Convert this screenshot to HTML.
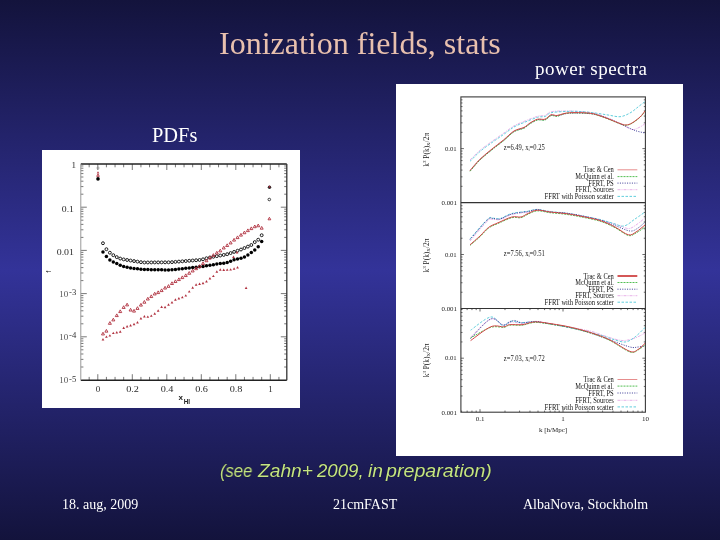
<!DOCTYPE html>
<html><head><meta charset="utf-8">
<style>
html,body{margin:0;padding:0;}
body{width:720px;height:540px;overflow:hidden;position:relative;
background:linear-gradient(to bottom,#13133c 0px,#333399 270px,#13133c 540px);
font-family:"Liberation Serif",serif;}
.t{position:absolute;white-space:nowrap;line-height:1;will-change:transform;}
#title{left:219px;top:27px;font-size:32px;color:#e8c0ae;}
#ps{left:535px;top:58.5px;font-size:19px;letter-spacing:0.5px;color:#fff;}
#pdfs{left:151.5px;top:125px;font-size:20.4px;color:#fff;}
.nw{position:absolute;top:463px;font-family:"Liberation Sans",sans-serif;font-style:italic;font-size:17.5px;color:#c4e484;transform-origin:0 0;text-shadow:0 0 1px #000;white-space:nowrap;line-height:1;will-change:transform;}
.ft{font-size:14px;color:#fff;top:498px;}
#f1{left:62px;}
#f2{left:333px;}
#f3{left:523px;}
.box{position:absolute;background:#fff;}
#lb{left:42px;top:150px;width:258px;height:258px;}
#rb{left:396px;top:84px;width:287px;height:372px;}
svg{position:absolute;left:0;top:0;will-change:transform;}
</style></head>
<body>
<div class="t" id="title">Ionization fields, stats</div>
<div class="t" id="ps">power spectra</div>
<div class="t" id="pdfs">PDFs</div>
<div class="box" id="lb"></div>
<div class="box" id="rb"></div>
<svg width="720" height="540" viewBox="0 0 720 540"><g>
<path d="M89.17 380.2v-3.3M89.17 164.0v3.3M97.80 380.2v-6M97.80 164.0v6M106.42 380.2v-3.3M106.42 164.0v3.3M115.05 380.2v-3.3M115.05 164.0v3.3M123.67 380.2v-3.3M123.67 164.0v3.3M132.30 380.2v-6M132.30 164.0v6M140.93 380.2v-3.3M140.93 164.0v3.3M149.55 380.2v-3.3M149.55 164.0v3.3M158.18 380.2v-3.3M158.18 164.0v3.3M166.80 380.2v-6M166.80 164.0v6M175.43 380.2v-3.3M175.43 164.0v3.3M184.05 380.2v-3.3M184.05 164.0v3.3M192.68 380.2v-3.3M192.68 164.0v3.3M201.30 380.2v-6M201.30 164.0v6M209.93 380.2v-3.3M209.93 164.0v3.3M218.55 380.2v-3.3M218.55 164.0v3.3M227.18 380.2v-3.3M227.18 164.0v3.3M235.80 380.2v-6M235.80 164.0v6M244.43 380.2v-3.3M244.43 164.0v3.3M253.05 380.2v-3.3M253.05 164.0v3.3M261.68 380.2v-3.3M261.68 164.0v3.3M270.30 380.2v-6M270.30 164.0v6M278.93 380.2v-3.3M278.93 164.0v3.3M80.8 207.20h6M286.8 207.20h-6M80.8 194.20h2.6M286.8 194.20h-2.6M80.8 186.59h2.6M286.8 186.59h-2.6M80.8 181.19h2.6M286.8 181.19h-2.6M80.8 177.00h2.6M286.8 177.00h-2.6M80.8 173.58h2.6M286.8 173.58h-2.6M80.8 170.69h2.6M286.8 170.69h-2.6M80.8 168.19h2.6M286.8 168.19h-2.6M80.8 165.98h2.6M286.8 165.98h-2.6M80.8 250.40h6M286.8 250.40h-6M80.8 237.40h2.6M286.8 237.40h-2.6M80.8 229.79h2.6M286.8 229.79h-2.6M80.8 224.39h2.6M286.8 224.39h-2.6M80.8 220.20h2.6M286.8 220.20h-2.6M80.8 216.78h2.6M286.8 216.78h-2.6M80.8 213.89h2.6M286.8 213.89h-2.6M80.8 211.39h2.6M286.8 211.39h-2.6M80.8 209.18h2.6M286.8 209.18h-2.6M80.8 293.60h6M286.8 293.60h-6M80.8 280.60h2.6M286.8 280.60h-2.6M80.8 272.99h2.6M286.8 272.99h-2.6M80.8 267.59h2.6M286.8 267.59h-2.6M80.8 263.40h2.6M286.8 263.40h-2.6M80.8 259.98h2.6M286.8 259.98h-2.6M80.8 257.09h2.6M286.8 257.09h-2.6M80.8 254.59h2.6M286.8 254.59h-2.6M80.8 252.38h2.6M286.8 252.38h-2.6M80.8 336.80h6M286.8 336.80h-6M80.8 323.80h2.6M286.8 323.80h-2.6M80.8 316.19h2.6M286.8 316.19h-2.6M80.8 310.79h2.6M286.8 310.79h-2.6M80.8 306.60h2.6M286.8 306.60h-2.6M80.8 303.18h2.6M286.8 303.18h-2.6M80.8 300.29h2.6M286.8 300.29h-2.6M80.8 297.79h2.6M286.8 297.79h-2.6M80.8 295.58h2.6M286.8 295.58h-2.6M80.8 367.00h2.6M286.8 367.00h-2.6M80.8 359.39h2.6M286.8 359.39h-2.6M80.8 353.99h2.6M286.8 353.99h-2.6M80.8 349.80h2.6M286.8 349.80h-2.6M80.8 346.38h2.6M286.8 346.38h-2.6M80.8 343.49h2.6M286.8 343.49h-2.6M80.8 340.99h2.6M286.8 340.99h-2.6M80.8 338.78h2.6M286.8 338.78h-2.6" stroke="#555" stroke-width="0.8" fill="none"/>
<path d="M80.8 164.0H286.8" stroke="#222" stroke-width="1.6"/>
<path d="M80.8 380.2H286.8" stroke="#222" stroke-width="1.4"/>
<path d="M286.8 164.0V380.2" stroke="#333" stroke-width="1.3"/>
<path d="M80.8 164.0V380.2" stroke="#999" stroke-width="1"/>
<text x="98.1" y="392.3" text-anchor="middle" font-family="Liberation Serif" font-size="9" fill="#2a2a2a">0</text>
<text x="132.6" y="392.3" text-anchor="middle" font-family="Liberation Serif" font-size="9" fill="#2a2a2a" textLength="12.8" lengthAdjust="spacingAndGlyphs">0.2</text>
<text x="167.1" y="392.3" text-anchor="middle" font-family="Liberation Serif" font-size="9" fill="#2a2a2a" textLength="12.8" lengthAdjust="spacingAndGlyphs">0.4</text>
<text x="201.6" y="392.3" text-anchor="middle" font-family="Liberation Serif" font-size="9" fill="#2a2a2a" textLength="12.8" lengthAdjust="spacingAndGlyphs">0.6</text>
<text x="236.1" y="392.3" text-anchor="middle" font-family="Liberation Serif" font-size="9" fill="#2a2a2a" textLength="12.8" lengthAdjust="spacingAndGlyphs">0.8</text>
<text x="270.6" y="392.3" text-anchor="middle" font-family="Liberation Serif" font-size="9" fill="#2a2a2a">1</text>
<text x="71.6" y="167.6" font-family="Liberation Serif" font-size="9" fill="#2a2a2a">1</text>
<text x="61.8" y="211.5" font-family="Liberation Serif" font-size="9" fill="#2a2a2a" textLength="12.2" lengthAdjust="spacingAndGlyphs">0.1</text>
<text x="56.7" y="254.5" font-family="Liberation Serif" font-size="9" fill="#2a2a2a" textLength="17.3" lengthAdjust="spacingAndGlyphs">0.01</text>
<text x="59.2" y="296.9" font-family="Liberation Serif" font-size="8.8" fill="#555" textLength="9" lengthAdjust="spacingAndGlyphs">10</text><text x="69" y="295.1" font-family="Liberation Serif" font-size="7.5" fill="#333" textLength="7.2" lengthAdjust="spacingAndGlyphs">-3</text>
<text x="59.2" y="340.1" font-family="Liberation Serif" font-size="8.8" fill="#555" textLength="9" lengthAdjust="spacingAndGlyphs">10</text><text x="69" y="338.3" font-family="Liberation Serif" font-size="7.5" fill="#333" textLength="7.2" lengthAdjust="spacingAndGlyphs">-4</text>
<text x="59.2" y="383.3" font-family="Liberation Serif" font-size="8.8" fill="#555" textLength="9" lengthAdjust="spacingAndGlyphs">10</text><text x="69" y="381.5" font-family="Liberation Serif" font-size="7.5" fill="#333" textLength="7.2" lengthAdjust="spacingAndGlyphs">-5</text>
<text x="51.5" y="271.7" font-family="Liberation Sans" font-size="7.5" fill="#222" transform="rotate(-90 51.5 271.7)" text-anchor="middle">f</text>
<text x="178.5" y="400.3" font-family="Liberation Sans" font-size="8" font-weight="bold" fill="#222">x</text><text x="183.8" y="403.7" font-family="Liberation Sans" font-size="6.3" font-weight="bold" fill="#222">HI</text>
<circle cx="102.97" cy="251.90" r="1.75" fill="#000"/><circle cx="106.42" cy="256.62" r="1.75" fill="#000"/><circle cx="109.88" cy="259.88" r="1.75" fill="#000"/><circle cx="113.32" cy="261.90" r="1.75" fill="#000"/><circle cx="116.78" cy="263.40" r="1.75" fill="#000"/><circle cx="120.22" cy="265.34" r="1.75" fill="#000"/><circle cx="123.67" cy="266.41" r="1.75" fill="#000"/><circle cx="127.12" cy="267.28" r="1.75" fill="#000"/><circle cx="130.57" cy="268.07" r="1.75" fill="#000"/><circle cx="134.03" cy="268.46" r="1.75" fill="#000"/><circle cx="137.47" cy="268.86" r="1.75" fill="#000"/><circle cx="140.93" cy="269.26" r="1.75" fill="#000"/><circle cx="144.38" cy="269.53" r="1.75" fill="#000"/><circle cx="147.82" cy="269.59" r="1.75" fill="#000"/><circle cx="151.28" cy="269.65" r="1.75" fill="#000"/><circle cx="154.72" cy="269.72" r="1.75" fill="#000"/><circle cx="158.17" cy="269.78" r="1.75" fill="#000"/><circle cx="161.62" cy="269.84" r="1.75" fill="#000"/><circle cx="165.07" cy="269.91" r="1.75" fill="#000"/><circle cx="168.53" cy="269.97" r="1.75" fill="#000"/><circle cx="171.98" cy="269.79" r="1.75" fill="#000"/><circle cx="175.42" cy="269.42" r="1.75" fill="#000"/><circle cx="178.88" cy="269.05" r="1.75" fill="#000"/><circle cx="182.32" cy="268.69" r="1.75" fill="#000"/><circle cx="185.78" cy="268.32" r="1.75" fill="#000"/><circle cx="189.23" cy="267.95" r="1.75" fill="#000"/><circle cx="192.68" cy="267.58" r="1.75" fill="#000"/><circle cx="196.12" cy="267.22" r="1.75" fill="#000"/><circle cx="199.58" cy="266.85" r="1.75" fill="#000"/><circle cx="203.02" cy="266.40" r="1.75" fill="#000"/><circle cx="206.47" cy="265.78" r="1.75" fill="#000"/><circle cx="209.93" cy="265.17" r="1.75" fill="#000"/><circle cx="213.38" cy="264.63" r="1.75" fill="#000"/><circle cx="216.82" cy="264.10" r="1.75" fill="#000"/><circle cx="220.28" cy="263.58" r="1.75" fill="#000"/><circle cx="223.73" cy="263.13" r="1.75" fill="#000"/><circle cx="227.18" cy="262.51" r="1.75" fill="#000"/><circle cx="230.62" cy="261.27" r="1.75" fill="#000"/><circle cx="234.07" cy="259.68" r="1.75" fill="#000"/><circle cx="237.53" cy="258.97" r="1.75" fill="#000"/><circle cx="240.98" cy="258.20" r="1.75" fill="#000"/><circle cx="244.43" cy="256.99" r="1.75" fill="#000"/><circle cx="247.88" cy="254.93" r="1.75" fill="#000"/><circle cx="251.32" cy="252.42" r="1.75" fill="#000"/><circle cx="254.77" cy="249.98" r="1.75" fill="#000"/><circle cx="258.23" cy="246.87" r="1.75" fill="#000"/><circle cx="261.68" cy="241.51" r="1.75" fill="#000"/><circle cx="102.97" cy="243.23" r="1.45" fill="none" stroke="#111" stroke-width="0.95"/><circle cx="106.42" cy="249.23" r="1.45" fill="none" stroke="#111" stroke-width="0.95"/><circle cx="109.88" cy="252.70" r="1.45" fill="none" stroke="#111" stroke-width="0.95"/><circle cx="113.32" cy="255.19" r="1.45" fill="none" stroke="#111" stroke-width="0.95"/><circle cx="116.78" cy="257.12" r="1.45" fill="none" stroke="#111" stroke-width="0.95"/><circle cx="120.22" cy="258.56" r="1.45" fill="none" stroke="#111" stroke-width="0.95"/><circle cx="123.67" cy="259.42" r="1.45" fill="none" stroke="#111" stroke-width="0.95"/><circle cx="127.12" cy="259.99" r="1.45" fill="none" stroke="#111" stroke-width="0.95"/><circle cx="130.57" cy="260.54" r="1.45" fill="none" stroke="#111" stroke-width="0.95"/><circle cx="134.03" cy="261.08" r="1.45" fill="none" stroke="#111" stroke-width="0.95"/><circle cx="137.47" cy="261.63" r="1.45" fill="none" stroke="#111" stroke-width="0.95"/><circle cx="140.93" cy="262.17" r="1.45" fill="none" stroke="#111" stroke-width="0.95"/><circle cx="144.38" cy="262.49" r="1.45" fill="none" stroke="#111" stroke-width="0.95"/><circle cx="147.82" cy="262.46" r="1.45" fill="none" stroke="#111" stroke-width="0.95"/><circle cx="151.28" cy="262.44" r="1.45" fill="none" stroke="#111" stroke-width="0.95"/><circle cx="154.72" cy="262.41" r="1.45" fill="none" stroke="#111" stroke-width="0.95"/><circle cx="158.17" cy="262.39" r="1.45" fill="none" stroke="#111" stroke-width="0.95"/><circle cx="161.62" cy="262.36" r="1.45" fill="none" stroke="#111" stroke-width="0.95"/><circle cx="165.07" cy="262.34" r="1.45" fill="none" stroke="#111" stroke-width="0.95"/><circle cx="168.53" cy="262.31" r="1.45" fill="none" stroke="#111" stroke-width="0.95"/><circle cx="171.98" cy="262.14" r="1.45" fill="none" stroke="#111" stroke-width="0.95"/><circle cx="175.42" cy="261.87" r="1.45" fill="none" stroke="#111" stroke-width="0.95"/><circle cx="178.88" cy="261.60" r="1.45" fill="none" stroke="#111" stroke-width="0.95"/><circle cx="182.32" cy="261.32" r="1.45" fill="none" stroke="#111" stroke-width="0.95"/><circle cx="185.78" cy="261.05" r="1.45" fill="none" stroke="#111" stroke-width="0.95"/><circle cx="189.23" cy="260.77" r="1.45" fill="none" stroke="#111" stroke-width="0.95"/><circle cx="192.68" cy="260.50" r="1.45" fill="none" stroke="#111" stroke-width="0.95"/><circle cx="196.12" cy="260.23" r="1.45" fill="none" stroke="#111" stroke-width="0.95"/><circle cx="199.58" cy="259.95" r="1.45" fill="none" stroke="#111" stroke-width="0.95"/><circle cx="203.02" cy="259.30" r="1.45" fill="none" stroke="#111" stroke-width="0.95"/><circle cx="206.47" cy="258.25" r="1.45" fill="none" stroke="#111" stroke-width="0.95"/><circle cx="209.93" cy="257.49" r="1.45" fill="none" stroke="#111" stroke-width="0.95"/><circle cx="213.38" cy="256.76" r="1.45" fill="none" stroke="#111" stroke-width="0.95"/><circle cx="216.82" cy="256.14" r="1.45" fill="none" stroke="#111" stroke-width="0.95"/><circle cx="220.28" cy="255.52" r="1.45" fill="none" stroke="#111" stroke-width="0.95"/><circle cx="223.73" cy="254.93" r="1.45" fill="none" stroke="#111" stroke-width="0.95"/><circle cx="227.18" cy="254.18" r="1.45" fill="none" stroke="#111" stroke-width="0.95"/><circle cx="230.62" cy="253.05" r="1.45" fill="none" stroke="#111" stroke-width="0.95"/><circle cx="234.07" cy="251.90" r="1.45" fill="none" stroke="#111" stroke-width="0.95"/><circle cx="237.53" cy="250.72" r="1.45" fill="none" stroke="#111" stroke-width="0.95"/><circle cx="240.98" cy="249.53" r="1.45" fill="none" stroke="#111" stroke-width="0.95"/><circle cx="244.43" cy="248.05" r="1.45" fill="none" stroke="#111" stroke-width="0.95"/><circle cx="247.88" cy="246.61" r="1.45" fill="none" stroke="#111" stroke-width="0.95"/><circle cx="251.32" cy="245.00" r="1.45" fill="none" stroke="#111" stroke-width="0.95"/><circle cx="254.77" cy="242.09" r="1.45" fill="none" stroke="#111" stroke-width="0.95"/><circle cx="258.23" cy="239.70" r="1.45" fill="none" stroke="#111" stroke-width="0.95"/><circle cx="261.68" cy="235.24" r="1.45" fill="none" stroke="#111" stroke-width="0.95"/><path d="M102.97 332.24L104.47 334.94L101.47 334.94Z" fill="none" stroke="#b0303e" stroke-width="0.9"/><path d="M106.42 329.44L107.92 332.14L104.92 332.14Z" fill="none" stroke="#b0303e" stroke-width="0.9"/><path d="M109.88 321.62L111.38 324.32L108.38 324.32Z" fill="none" stroke="#b0303e" stroke-width="0.9"/><path d="M113.32 318.22L114.82 320.92L111.82 320.92Z" fill="none" stroke="#b0303e" stroke-width="0.9"/><path d="M116.78 313.89L118.28 316.59L115.28 316.59Z" fill="none" stroke="#b0303e" stroke-width="0.9"/><path d="M120.22 309.87L121.72 312.57L118.72 312.57Z" fill="none" stroke="#b0303e" stroke-width="0.9"/><path d="M123.67 305.75L125.17 308.45L122.17 308.45Z" fill="none" stroke="#b0303e" stroke-width="0.9"/><path d="M127.12 303.19L128.62 305.89L125.62 305.89Z" fill="none" stroke="#b0303e" stroke-width="0.9"/><path d="M130.57 308.32L132.07 311.02L129.07 311.02Z" fill="none" stroke="#b0303e" stroke-width="0.9"/><path d="M134.03 309.38L135.53 312.08L132.53 312.08Z" fill="none" stroke="#b0303e" stroke-width="0.9"/><path d="M137.47 306.71L138.97 309.41L135.97 309.41Z" fill="none" stroke="#b0303e" stroke-width="0.9"/><path d="M140.93 303.39L142.43 306.09L139.43 306.09Z" fill="none" stroke="#b0303e" stroke-width="0.9"/><path d="M144.38 300.49L145.88 303.19L142.88 303.19Z" fill="none" stroke="#b0303e" stroke-width="0.9"/><path d="M147.82 297.32L149.32 300.02L146.32 300.02Z" fill="none" stroke="#b0303e" stroke-width="0.9"/><path d="M151.28 294.86L152.78 297.56L149.78 297.56Z" fill="none" stroke="#b0303e" stroke-width="0.9"/><path d="M154.72 292.25L156.22 294.95L153.22 294.95Z" fill="none" stroke="#b0303e" stroke-width="0.9"/><path d="M158.17 290.88L159.67 293.58L156.67 293.58Z" fill="none" stroke="#b0303e" stroke-width="0.9"/><path d="M161.62 288.89L163.12 291.59L160.12 291.59Z" fill="none" stroke="#b0303e" stroke-width="0.9"/><path d="M165.07 286.34L166.57 289.04L163.57 289.04Z" fill="none" stroke="#b0303e" stroke-width="0.9"/><path d="M168.53 284.62L170.03 287.32L167.03 287.32Z" fill="none" stroke="#b0303e" stroke-width="0.9"/><path d="M171.98 281.80L173.48 284.50L170.48 284.50Z" fill="none" stroke="#b0303e" stroke-width="0.9"/><path d="M175.42 279.83L176.92 282.53L173.92 282.53Z" fill="none" stroke="#b0303e" stroke-width="0.9"/><path d="M178.88 277.87L180.38 280.57L177.38 280.57Z" fill="none" stroke="#b0303e" stroke-width="0.9"/><path d="M182.32 275.90L183.82 278.60L180.82 278.60Z" fill="none" stroke="#b0303e" stroke-width="0.9"/><path d="M185.78 273.86L187.28 276.56L184.28 276.56Z" fill="none" stroke="#b0303e" stroke-width="0.9"/><path d="M189.23 271.56L190.73 274.26L187.73 274.26Z" fill="none" stroke="#b0303e" stroke-width="0.9"/><path d="M192.68 269.26L194.18 271.96L191.18 271.96Z" fill="none" stroke="#b0303e" stroke-width="0.9"/><path d="M196.12 266.96L197.62 269.66L194.62 269.66Z" fill="none" stroke="#b0303e" stroke-width="0.9"/><path d="M199.58 264.66L201.08 267.36L198.08 267.36Z" fill="none" stroke="#b0303e" stroke-width="0.9"/><path d="M203.02 261.88L204.52 264.58L201.52 264.58Z" fill="none" stroke="#b0303e" stroke-width="0.9"/><path d="M206.47 259.03L207.97 261.73L204.97 261.73Z" fill="none" stroke="#b0303e" stroke-width="0.9"/><path d="M209.93 256.24L211.43 258.94L208.43 258.94Z" fill="none" stroke="#b0303e" stroke-width="0.9"/><path d="M213.38 253.67L214.88 256.37L211.88 256.37Z" fill="none" stroke="#b0303e" stroke-width="0.9"/><path d="M216.82 251.34L218.32 254.04L215.32 254.04Z" fill="none" stroke="#b0303e" stroke-width="0.9"/><path d="M220.28 249.16L221.78 251.86L218.78 251.86Z" fill="none" stroke="#b0303e" stroke-width="0.9"/><path d="M223.73 246.28L225.23 248.98L222.23 248.98Z" fill="none" stroke="#b0303e" stroke-width="0.9"/><path d="M227.18 243.83L228.68 246.53L225.68 246.53Z" fill="none" stroke="#b0303e" stroke-width="0.9"/><path d="M230.62 241.23L232.12 243.93L229.12 243.93Z" fill="none" stroke="#b0303e" stroke-width="0.9"/><path d="M234.07 238.37L235.57 241.07L232.57 241.07Z" fill="none" stroke="#b0303e" stroke-width="0.9"/><path d="M237.53 235.92L239.03 238.62L236.03 238.62Z" fill="none" stroke="#b0303e" stroke-width="0.9"/><path d="M240.98 233.40L242.48 236.10L239.48 236.10Z" fill="none" stroke="#b0303e" stroke-width="0.9"/><path d="M244.43 231.03L245.93 233.73L242.93 233.73Z" fill="none" stroke="#b0303e" stroke-width="0.9"/><path d="M247.88 228.92L249.38 231.62L246.38 231.62Z" fill="none" stroke="#b0303e" stroke-width="0.9"/><path d="M251.32 226.90L252.82 229.60L249.82 229.60Z" fill="none" stroke="#b0303e" stroke-width="0.9"/><path d="M254.77 225.01L256.27 227.71L253.27 227.71Z" fill="none" stroke="#b0303e" stroke-width="0.9"/><path d="M258.23 224.06L259.73 226.76L256.73 226.76Z" fill="none" stroke="#b0303e" stroke-width="0.9"/><path d="M261.68 226.46L263.18 229.16L260.18 229.16Z" fill="none" stroke="#b0303e" stroke-width="0.9"/><path d="M102.97 337.95L104.32 340.38L101.62 340.38Z" fill="#b0303e"/><path d="M106.42 335.42L107.77 337.85L105.08 337.85Z" fill="#b0303e"/><path d="M109.88 334.19L111.22 336.62L108.53 336.62Z" fill="#b0303e"/><path d="M113.32 331.67L114.67 334.10L111.97 334.10Z" fill="#b0303e"/><path d="M116.78 331.06L118.12 333.49L115.43 333.49Z" fill="#b0303e"/><path d="M120.22 330.29L121.57 332.72L118.88 332.72Z" fill="#b0303e"/><path d="M123.67 326.51L125.02 328.94L122.33 328.94Z" fill="#b0303e"/><path d="M127.12 325.06L128.47 327.49L125.78 327.49Z" fill="#b0303e"/><path d="M130.57 324.11L131.92 326.54L129.22 326.54Z" fill="#b0303e"/><path d="M134.03 322.73L135.38 325.16L132.68 325.16Z" fill="#b0303e"/><path d="M137.47 321.05L138.82 323.48L136.12 323.48Z" fill="#b0303e"/><path d="M140.93 317.10L142.28 319.53L139.58 319.53Z" fill="#b0303e"/><path d="M144.38 315.11L145.72 317.54L143.03 317.54Z" fill="#b0303e"/><path d="M147.82 315.40L149.17 317.83L146.47 317.83Z" fill="#b0303e"/><path d="M151.28 314.38L152.62 316.81L149.93 316.81Z" fill="#b0303e"/><path d="M154.72 312.27L156.07 314.70L153.38 314.70Z" fill="#b0303e"/><path d="M158.17 309.35L159.52 311.78L156.82 311.78Z" fill="#b0303e"/><path d="M161.62 305.59L162.97 308.02L160.28 308.02Z" fill="#b0303e"/><path d="M165.07 305.74L166.42 308.17L163.72 308.17Z" fill="#b0303e"/><path d="M168.53 303.24L169.88 305.67L167.18 305.67Z" fill="#b0303e"/><path d="M171.98 300.95L173.33 303.38L170.63 303.38Z" fill="#b0303e"/><path d="M175.42 298.26L176.77 300.69L174.07 300.69Z" fill="#b0303e"/><path d="M178.88 297.10L180.22 299.53L177.53 299.53Z" fill="#b0303e"/><path d="M182.32 295.94L183.67 298.37L180.97 298.37Z" fill="#b0303e"/><path d="M185.78 294.15L187.12 296.58L184.43 296.58Z" fill="#b0303e"/><path d="M189.23 290.18L190.58 292.61L187.88 292.61Z" fill="#b0303e"/><path d="M192.68 286.22L194.03 288.65L191.33 288.65Z" fill="#b0303e"/><path d="M196.12 283.28L197.47 285.71L194.78 285.71Z" fill="#b0303e"/><path d="M199.58 282.49L200.93 284.92L198.23 284.92Z" fill="#b0303e"/><path d="M203.02 281.70L204.37 284.13L201.67 284.13Z" fill="#b0303e"/><path d="M206.47 280.00L207.82 282.43L205.12 282.43Z" fill="#b0303e"/><path d="M209.93 277.10L211.28 279.53L208.58 279.53Z" fill="#b0303e"/><path d="M213.38 274.68L214.72 277.11L212.03 277.11Z" fill="#b0303e"/><path d="M216.82 270.20L218.17 272.63L215.47 272.63Z" fill="#b0303e"/><path d="M220.28 268.20L221.62 270.63L218.93 270.63Z" fill="#b0303e"/><path d="M223.73 268.45L225.08 270.88L222.38 270.88Z" fill="#b0303e"/><path d="M227.18 268.39L228.53 270.82L225.83 270.82Z" fill="#b0303e"/><path d="M230.62 268.14L231.97 270.57L229.28 270.57Z" fill="#b0303e"/><path d="M234.07 267.32L235.42 269.75L232.72 269.75Z" fill="#b0303e"/><path d="M237.53 266.11L238.88 268.54L236.18 268.54Z" fill="#b0303e"/><circle cx="98" cy="178.9" r="1.8" fill="#000"/><path d="M98.00 171.20L99.30 173.54L96.70 173.54Z" fill="#b0303e"/><path d="M98.00 174.00L99.30 176.34L96.70 176.34Z" fill="none" stroke="#b0303e" stroke-width="0.9"/><circle cx="98" cy="168" r="1.1" fill="none" stroke="#888" stroke-width="0.6"/><circle cx="269.5" cy="187.2" r="1.7" fill="#222"/><path d="M269.50 185.30L270.70 187.46L268.30 187.46Z" fill="#b0303e"/><circle cx="269.3" cy="199.5" r="1.3" fill="none" stroke="#111" stroke-width="0.8"/><path d="M269.40 217.29L270.80 219.81L268.00 219.81Z" fill="none" stroke="#b0303e" stroke-width="0.9"/><path d="M246.10 286.54L247.45 288.97L244.75 288.97Z" fill="#b0303e"/><path d="M233.50 255.54L234.85 257.97L232.15 257.97Z" fill="#b0303e"/><path d="M237.00 251.04L238.35 253.47L235.65 253.47Z" fill="#b0303e"/>
</g>
<path d="M460.9 186.34h1.6M645.4 186.34h-1.6M460.9 176.84h1.6M645.4 176.84h-1.6M460.9 170.09h1.6M645.4 170.09h-1.6M460.9 164.86h1.6M645.4 164.86h-1.6M460.9 160.58h1.6M645.4 160.58h-1.6M460.9 156.96h1.6M645.4 156.96h-1.6M460.9 153.83h1.6M645.4 153.83h-1.6M460.9 151.07h1.6M645.4 151.07h-1.6M460.9 148.60h3M645.4 148.60h-3M460.9 132.34h1.6M645.4 132.34h-1.6M460.9 122.84h1.6M645.4 122.84h-1.6M460.9 116.09h1.6M645.4 116.09h-1.6M460.9 110.86h1.6M645.4 110.86h-1.6M460.9 106.58h1.6M645.4 106.58h-1.6M460.9 102.96h1.6M645.4 102.96h-1.6M460.9 99.83h1.6M645.4 99.83h-1.6M460.9 292.24h1.6M645.4 292.24h-1.6M460.9 282.74h1.6M645.4 282.74h-1.6M460.9 275.99h1.6M645.4 275.99h-1.6M460.9 270.76h1.6M645.4 270.76h-1.6M460.9 266.48h1.6M645.4 266.48h-1.6M460.9 262.86h1.6M645.4 262.86h-1.6M460.9 259.73h1.6M645.4 259.73h-1.6M460.9 256.97h1.6M645.4 256.97h-1.6M460.9 254.50h3M645.4 254.50h-3M460.9 238.24h1.6M645.4 238.24h-1.6M460.9 228.74h1.6M645.4 228.74h-1.6M460.9 221.99h1.6M645.4 221.99h-1.6M460.9 216.76h1.6M645.4 216.76h-1.6M460.9 212.48h1.6M645.4 212.48h-1.6M460.9 208.86h1.6M645.4 208.86h-1.6M460.9 205.73h1.6M645.4 205.73h-1.6M460.9 395.94h1.6M645.4 395.94h-1.6M460.9 386.44h1.6M645.4 386.44h-1.6M460.9 379.69h1.6M645.4 379.69h-1.6M460.9 374.46h1.6M645.4 374.46h-1.6M460.9 370.18h1.6M645.4 370.18h-1.6M460.9 366.56h1.6M645.4 366.56h-1.6M460.9 363.43h1.6M645.4 363.43h-1.6M460.9 360.67h1.6M645.4 360.67h-1.6M460.9 358.20h3M645.4 358.20h-3M460.9 341.94h1.6M645.4 341.94h-1.6M460.9 332.44h1.6M645.4 332.44h-1.6M460.9 325.69h1.6M645.4 325.69h-1.6M460.9 320.46h1.6M645.4 320.46h-1.6M460.9 316.18h1.6M645.4 316.18h-1.6M460.9 312.56h1.6M645.4 312.56h-1.6M460.9 309.43h1.6M645.4 309.43h-1.6M461.59 412.2v-1.6M461.59 308.5v1.6M467.14 412.2v-1.6M467.14 308.5v1.6M471.96 412.2v-1.6M471.96 308.5v1.6M476.20 412.2v-1.6M476.20 308.5v1.6M480.00 412.2v-3M480.00 308.5v3M504.99 412.2v-1.6M504.99 308.5v1.6M519.60 412.2v-1.6M519.60 308.5v1.6M529.97 412.2v-1.6M529.97 308.5v1.6M538.01 412.2v-1.6M538.01 308.5v1.6M544.59 412.2v-1.6M544.59 308.5v1.6M550.14 412.2v-1.6M550.14 308.5v1.6M554.96 412.2v-1.6M554.96 308.5v1.6M559.20 412.2v-1.6M559.20 308.5v1.6M563.00 412.2v-3M563.00 308.5v3M587.99 412.2v-1.6M587.99 308.5v1.6M602.60 412.2v-1.6M602.60 308.5v1.6M612.97 412.2v-1.6M612.97 308.5v1.6M621.01 412.2v-1.6M621.01 308.5v1.6M627.59 412.2v-1.6M627.59 308.5v1.6M633.14 412.2v-1.6M633.14 308.5v1.6M637.96 412.2v-1.6M637.96 308.5v1.6M642.20 412.2v-1.6M642.20 308.5v1.6" stroke="#444" stroke-width="0.8" fill="none"/>
<rect x="460.9" y="96.9" width="184.5" height="315.29999999999995" fill="none" stroke="#3a3a3a" stroke-width="1.1"/>
<path d="M460.9 202.6H645.4M460.9 308.5H645.4" stroke="#333" stroke-width="1.1"/>
<text x="456.7" y="150.8" text-anchor="end" font-family="Liberation Serif" font-size="7" fill="#1a1a1a" textLength="11.8" lengthAdjust="spacingAndGlyphs">0.01</text>
<text x="457" y="205.4" text-anchor="end" font-family="Liberation Serif" font-size="7" fill="#1a1a1a" textLength="15.5" lengthAdjust="spacingAndGlyphs">0.001</text>
<g transform="translate(428.6 149.75) rotate(-90)"><text x="0" y="0" text-anchor="middle" font-family="Liberation Serif" font-size="7.4" fill="#1a1a1a">k<tspan dy="-2.8" font-size="5">3</tspan><tspan dy="2.8"> P(k)</tspan><tspan dy="1.6" font-size="5">X</tspan><tspan dy="-1.6">/2π</tspan></text></g>
<text x="456.7" y="256.8" text-anchor="end" font-family="Liberation Serif" font-size="7" fill="#1a1a1a" textLength="11.8" lengthAdjust="spacingAndGlyphs">0.01</text>
<text x="457" y="311.4" text-anchor="end" font-family="Liberation Serif" font-size="7" fill="#1a1a1a" textLength="15.5" lengthAdjust="spacingAndGlyphs">0.001</text>
<g transform="translate(428.6 255.55) rotate(-90)"><text x="0" y="0" text-anchor="middle" font-family="Liberation Serif" font-size="7.4" fill="#1a1a1a">k<tspan dy="-2.8" font-size="5">3</tspan><tspan dy="2.8"> P(k)</tspan><tspan dy="1.6" font-size="5">X</tspan><tspan dy="-1.6">/2π</tspan></text></g>
<text x="456.7" y="360.4" text-anchor="end" font-family="Liberation Serif" font-size="7" fill="#1a1a1a" textLength="11.8" lengthAdjust="spacingAndGlyphs">0.01</text>
<text x="457" y="415.1" text-anchor="end" font-family="Liberation Serif" font-size="7" fill="#1a1a1a" textLength="15.5" lengthAdjust="spacingAndGlyphs">0.001</text>
<g transform="translate(428.6 360.35) rotate(-90)"><text x="0" y="0" text-anchor="middle" font-family="Liberation Serif" font-size="7.4" fill="#1a1a1a">k<tspan dy="-2.8" font-size="5">3</tspan><tspan dy="2.8"> P(k)</tspan><tspan dy="1.6" font-size="5">X</tspan><tspan dy="-1.6">/2π</tspan></text></g>
<text x="480" y="420.8" text-anchor="middle" font-family="Liberation Serif" font-size="7" fill="#1a1a1a">0.1</text>
<text x="563" y="420.8" text-anchor="middle" font-family="Liberation Serif" font-size="7" fill="#1a1a1a">1</text>
<text x="645.6" y="420.8" text-anchor="middle" font-family="Liberation Serif" font-size="7" fill="#1a1a1a">10</text>
<text x="553" y="431.6" text-anchor="middle" font-family="Liberation Serif" font-size="7" fill="#1a1a1a">k [h/Mpc]</text>
<text x="503.8" y="149.9" font-family="Liberation Serif" font-size="7.2" fill="#1a1a1a" textLength="41" lengthAdjust="spacingAndGlyphs">z=6.49, x<tspan dy="1.3" font-size="4.5">i</tspan><tspan dy="-1.3">=0.25</tspan></text>
<text x="503.8" y="255.6" font-family="Liberation Serif" font-size="7.2" fill="#1a1a1a" textLength="41" lengthAdjust="spacingAndGlyphs">z=7.56, x<tspan dy="1.3" font-size="4.5">i</tspan><tspan dy="-1.3">=0.51</tspan></text>
<text x="503.8" y="360.9" font-family="Liberation Serif" font-size="7.2" fill="#1a1a1a" textLength="41" lengthAdjust="spacingAndGlyphs">z=7.03, x<tspan dy="1.3" font-size="4.5">i</tspan><tspan dy="-1.3">=0.72</tspan></text>
<text x="613.8" y="172.4" text-anchor="end" font-family="Liberation Serif" font-size="7.3" fill="#111" textLength="30.3" lengthAdjust="spacingAndGlyphs">Trac &amp; Cen</text>
<path d="M617.5 169.8H637.3" stroke="#e07070" fill="none" stroke-width="0.8"/>
<text x="613.8" y="179.2" text-anchor="end" font-family="Liberation Serif" font-size="7.3" fill="#111" textLength="38.6" lengthAdjust="spacingAndGlyphs">McQuinn et al.</text>
<path d="M617.5 176.6H637.3" stroke="#40b840" fill="none" stroke-width="0.9" stroke-dasharray="2 1"/>
<text x="613.8" y="185.7" text-anchor="end" font-family="Liberation Serif" font-size="7.3" fill="#111" textLength="25.5" lengthAdjust="spacingAndGlyphs">FFRT, PS</text>
<path d="M617.5 183.1H637.3" stroke="#25258a" fill="none" stroke-width="0.9" stroke-dasharray="1 1.4"/>
<text x="613.8" y="192.3" text-anchor="end" font-family="Liberation Serif" font-size="7.3" fill="#111" textLength="38.6" lengthAdjust="spacingAndGlyphs">FFRT, Sources</text>
<path d="M617.5 189.7H637.3" stroke="#e090e0" fill="none" stroke-width="0.7" stroke-dasharray="3 1 1 1"/>
<text x="613.8" y="199.0" text-anchor="end" font-family="Liberation Serif" font-size="7.3" fill="#111" textLength="69.2" lengthAdjust="spacingAndGlyphs">FFRT with Poisson scatter</text>
<path d="M617.5 196.4H637.3" stroke="#50c8d8" fill="none" stroke-width="0.9" stroke-dasharray="2.5 1.5"/>
<text x="613.8" y="278.6" text-anchor="end" font-family="Liberation Serif" font-size="7.3" fill="#111" textLength="30.3" lengthAdjust="spacingAndGlyphs">Trac &amp; Cen</text>
<path d="M617.5 276.0H637.3" stroke="#d04444" fill="none" stroke-width="1.8"/>
<text x="613.8" y="285.1" text-anchor="end" font-family="Liberation Serif" font-size="7.3" fill="#111" textLength="38.6" lengthAdjust="spacingAndGlyphs">McQuinn et al.</text>
<path d="M617.5 282.5H637.3" stroke="#40b840" fill="none" stroke-width="0.9" stroke-dasharray="2 1"/>
<text x="613.8" y="291.8" text-anchor="end" font-family="Liberation Serif" font-size="7.3" fill="#111" textLength="25.5" lengthAdjust="spacingAndGlyphs">FFRT, PS</text>
<path d="M617.5 289.2H637.3" stroke="#25258a" fill="none" stroke-width="0.9" stroke-dasharray="1 1.4"/>
<text x="613.8" y="298.3" text-anchor="end" font-family="Liberation Serif" font-size="7.3" fill="#111" textLength="38.6" lengthAdjust="spacingAndGlyphs">FFRT, Sources</text>
<path d="M617.5 295.7H637.3" stroke="#e090e0" fill="none" stroke-width="0.7" stroke-dasharray="3 1 1 1"/>
<text x="613.8" y="304.8" text-anchor="end" font-family="Liberation Serif" font-size="7.3" fill="#111" textLength="69.2" lengthAdjust="spacingAndGlyphs">FFRT with Poisson scatter</text>
<path d="M617.5 302.2H637.3" stroke="#50c8d8" fill="none" stroke-width="0.9" stroke-dasharray="2.5 1.5"/>
<text x="613.8" y="382.1" text-anchor="end" font-family="Liberation Serif" font-size="7.3" fill="#111" textLength="30.3" lengthAdjust="spacingAndGlyphs">Trac &amp; Cen</text>
<path d="M617.5 379.5H637.3" stroke="#e07070" fill="none" stroke-width="0.8"/>
<text x="613.8" y="388.7" text-anchor="end" font-family="Liberation Serif" font-size="7.3" fill="#111" textLength="38.6" lengthAdjust="spacingAndGlyphs">McQuinn et al.</text>
<path d="M617.5 386.1H637.3" stroke="#40b840" fill="none" stroke-width="0.9" stroke-dasharray="2 1"/>
<text x="613.8" y="395.6" text-anchor="end" font-family="Liberation Serif" font-size="7.3" fill="#111" textLength="25.5" lengthAdjust="spacingAndGlyphs">FFRT, PS</text>
<path d="M617.5 393.0H637.3" stroke="#25258a" fill="none" stroke-width="0.9" stroke-dasharray="1 1.4"/>
<text x="613.8" y="402.9" text-anchor="end" font-family="Liberation Serif" font-size="7.3" fill="#111" textLength="38.6" lengthAdjust="spacingAndGlyphs">FFRT, Sources</text>
<path d="M617.5 400.3H637.3" stroke="#e090e0" fill="none" stroke-width="0.7" stroke-dasharray="3 1 1 1"/>
<text x="613.8" y="409.5" text-anchor="end" font-family="Liberation Serif" font-size="7.3" fill="#111" textLength="69.2" lengthAdjust="spacingAndGlyphs">FFRT with Poisson scatter</text>
<path d="M617.5 406.9H637.3" stroke="#50c8d8" fill="none" stroke-width="0.9" stroke-dasharray="2.5 1.5"/>
<path d="M470.0 160.0 C471.7 158.4 476.3 153.4 480.0 150.3 C483.7 147.2 488.1 144.2 492.0 141.4 C495.9 138.6 499.8 135.9 503.5 133.3 C507.2 130.7 510.6 127.9 514.0 125.9 C517.4 123.9 520.1 123.0 524.0 121.4 C527.9 119.8 534.1 117.3 537.6 116.3 C541.1 115.3 542.8 116.2 545.0 115.5 C547.2 114.8 547.7 112.5 551.0 111.8 C554.3 111.0 560.2 111.0 565.0 111.0 C569.8 111.0 575.0 111.1 580.0 111.5 C585.0 111.9 590.0 112.2 595.0 113.5 C600.0 114.8 605.5 117.2 610.0 119.0 C614.5 120.8 618.3 122.8 622.0 124.5 C625.7 126.2 629.0 129.1 632.0 129.5 C635.0 129.9 637.8 128.0 640.0 127.0 C642.2 126.0 644.2 124.2 645.0 123.7" stroke="#e090e0" fill="none" stroke-width="0.7" stroke-dasharray="3 1 1 1"/>
<path d="M470.0 161.4 C471.7 159.8 476.3 154.7 480.0 151.5 C483.7 148.3 488.1 145.3 492.0 142.5 C495.9 139.7 499.8 137.1 503.5 134.5 C507.2 131.9 510.6 129.0 514.0 127.0 C517.4 125.0 520.1 124.1 524.0 122.5 C527.9 120.9 534.1 118.3 537.6 117.3 C541.1 116.3 542.8 117.2 545.0 116.5 C547.2 115.8 547.7 113.6 551.0 112.8 C554.3 112.0 560.2 111.7 565.0 111.5 C569.8 111.3 575.0 111.2 580.0 111.5 C585.0 111.8 590.3 112.4 595.0 113.0 C599.7 113.6 603.8 114.4 608.0 115.0 C612.2 115.6 616.3 117.0 620.0 116.7 C623.7 116.4 627.0 114.6 630.0 113.0 C633.0 111.4 635.5 108.9 638.0 107.0 C640.5 105.1 643.8 102.4 645.0 101.5" stroke="#50c8d8" fill="none" stroke-width="0.9" stroke-dasharray="2.5 1.5"/>
<path d="M470.0 171.0 C471.7 169.1 476.3 163.3 480.0 159.7 C483.7 156.1 488.1 152.7 492.0 149.5 C495.9 146.3 499.8 143.5 503.5 140.5 C507.2 137.5 510.6 133.6 514.0 131.5 C517.4 129.4 521.3 129.2 524.0 127.9 C526.7 126.6 527.7 124.9 530.0 123.5 C532.3 122.1 535.1 120.3 537.6 119.7 C540.1 119.1 542.8 120.4 545.0 119.7 C547.2 119.0 549.0 115.9 551.0 115.3 C553.0 114.7 554.7 116.2 557.0 116.0 C559.3 115.8 562.0 114.3 565.0 113.8 C568.0 113.3 570.8 113.1 575.0 113.1 C579.2 113.1 585.8 113.3 590.0 113.7 C594.2 114.1 596.3 114.5 600.0 115.5 C603.7 116.5 607.8 118.2 612.0 120.0 C616.2 121.8 621.2 124.2 625.0 126.0 C628.8 127.8 631.7 129.3 635.0 130.5 C638.3 131.7 643.3 132.6 645.0 133.0" stroke="#25258a" fill="none" stroke-width="0.9" stroke-dasharray="1 1.4"/>
<path d="M470.0 171.3 C471.7 169.4 476.3 163.6 480.0 160.0 C483.7 156.4 488.1 153.0 492.0 149.8 C495.9 146.6 499.8 143.8 503.5 140.8 C507.2 137.8 510.6 133.9 514.0 131.8 C517.4 129.7 521.3 129.5 524.0 128.2 C526.7 126.9 527.7 125.2 530.0 123.8 C532.3 122.4 535.1 120.6 537.6 120.0 C540.1 119.4 542.8 120.7 545.0 120.0 C547.2 119.3 549.0 116.2 551.0 115.6 C553.0 115.0 554.7 116.6 557.0 116.3 C559.3 116.0 562.0 114.2 565.0 113.6 C568.0 113.0 570.8 112.9 575.0 112.9 C579.2 112.9 585.8 113.0 590.0 113.5 C594.2 114.0 596.7 115.0 600.0 116.1 C603.3 117.1 606.7 118.5 610.0 119.8 C613.3 121.1 617.3 122.9 620.0 123.8 C622.7 124.7 624.0 125.4 626.0 125.3 C628.0 125.2 629.7 124.6 632.0 123.3 C634.3 122.0 637.8 119.3 640.0 117.3 C642.2 115.3 644.2 112.3 645.0 111.3" stroke="#40b840" fill="none" stroke-width="0.9" stroke-dasharray="2 1"/>
<path d="M470.0 170.5 C471.7 168.6 476.3 162.8 480.0 159.2 C483.7 155.6 488.1 152.2 492.0 149.0 C495.9 145.8 499.8 143.0 503.5 140.0 C507.2 137.0 510.6 133.1 514.0 131.0 C517.4 128.9 521.3 128.7 524.0 127.4 C526.7 126.1 527.7 124.4 530.0 123.0 C532.3 121.6 535.1 119.8 537.6 119.2 C540.1 118.6 542.8 119.9 545.0 119.2 C547.2 118.5 549.0 115.4 551.0 114.8 C553.0 114.2 554.7 115.8 557.0 115.5 C559.3 115.2 562.0 113.8 565.0 113.3 C568.0 112.8 570.8 112.6 575.0 112.6 C579.2 112.6 585.8 112.7 590.0 113.2 C594.2 113.7 596.7 114.8 600.0 115.8 C603.3 116.8 606.7 118.2 610.0 119.5 C613.3 120.8 617.3 122.6 620.0 123.5 C622.7 124.4 624.0 125.1 626.0 125.0 C628.0 124.9 629.7 124.3 632.0 123.0 C634.3 121.7 637.8 119.0 640.0 117.0 C642.2 115.0 644.2 112.0 645.0 111.0" stroke="#d04444" fill="none" stroke-width="1"/>
<path d="M470.0 241.0 C472.9 237.7 483.6 224.6 487.5 221.0 C491.4 217.4 491.1 219.7 493.2 219.4 C495.3 219.2 497.1 220.3 500.2 219.5 C503.3 218.7 507.2 215.8 511.8 214.5 C516.4 213.2 523.8 212.8 528.0 212.0 C532.2 211.2 533.5 210.0 537.2 210.0 C540.9 210.0 545.4 211.5 550.0 212.0 C554.6 212.5 560.0 212.6 565.0 213.2 C570.0 213.8 574.2 214.4 580.0 215.5 C585.8 216.6 594.2 218.6 600.0 220.0 C605.8 221.4 610.3 222.6 615.0 224.0 C619.7 225.4 624.5 228.3 628.0 228.5 C631.5 228.7 633.2 226.8 636.0 225.0 C638.8 223.2 643.5 219.2 645.0 218.0" stroke="#e090e0" fill="none" stroke-width="0.7" stroke-dasharray="3 1 1 1"/>
<path d="M470.0 239.0 C472.9 235.7 483.6 222.8 487.5 219.3 C491.4 215.8 491.1 218.3 493.2 218.2 C495.3 218.1 497.1 219.3 500.2 218.5 C503.3 217.7 507.2 214.7 511.8 213.5 C516.4 212.3 523.8 211.9 528.0 211.2 C532.2 210.5 533.5 209.3 537.2 209.4 C540.9 209.5 545.4 210.9 550.0 211.5 C554.6 212.1 560.0 212.3 565.0 213.0 C570.0 213.7 574.2 214.4 580.0 215.5 C585.8 216.6 594.7 218.2 600.0 219.5 C605.3 220.8 608.0 221.9 612.0 223.0 C616.0 224.1 620.2 226.7 624.0 226.0 C627.8 225.3 631.5 221.3 635.0 219.0 C638.5 216.7 643.3 213.2 645.0 212.0" stroke="#50c8d8" fill="none" stroke-width="0.9" stroke-dasharray="2.5 1.5"/>
<path d="M470.0 239.5 C472.9 236.2 483.6 223.3 487.5 219.8 C491.4 216.3 491.1 218.7 493.2 218.6 C495.3 218.5 497.1 219.8 500.2 219.0 C503.3 218.2 507.2 215.2 511.8 214.0 C516.4 212.8 523.8 212.2 528.0 211.5 C532.2 210.8 533.5 209.5 537.2 209.6 C540.9 209.7 545.4 211.4 550.0 212.0 C554.6 212.6 560.0 212.4 565.0 213.0 C570.0 213.6 574.2 214.3 580.0 215.5 C585.8 216.7 594.2 218.3 600.0 220.0 C605.8 221.7 610.0 223.7 615.0 225.5 C620.0 227.3 626.2 230.6 630.0 231.0 C633.8 231.4 635.5 229.5 638.0 228.0 C640.5 226.5 643.8 223.0 645.0 222.0" stroke="#25258a" fill="none" stroke-width="0.9" stroke-dasharray="1 1.4"/>
<path d="M470.0 245.5 C471.7 244.0 476.9 239.6 480.0 236.7 C483.1 233.8 485.6 230.3 488.6 228.1 C491.6 225.9 494.1 225.2 498.0 223.5 C501.9 221.8 508.0 218.7 511.8 217.7 C515.6 216.7 518.3 218.3 521.0 217.7 C523.7 217.1 525.3 215.3 528.0 214.2 C530.7 213.1 533.5 211.1 537.2 210.9 C540.9 210.6 545.4 212.1 550.0 212.7 C554.6 213.2 560.0 213.5 565.0 214.2 C570.0 214.9 574.2 215.5 580.0 216.7 C585.8 217.9 594.2 219.4 600.0 221.2 C605.8 223.0 610.3 225.3 615.0 227.7 C619.7 230.1 624.9 234.6 628.4 235.5 C631.9 236.4 633.2 234.4 636.0 233.0 C638.8 231.6 643.5 228.0 645.0 227.0" stroke="#40b840" fill="none" stroke-width="0.9" stroke-dasharray="2 1"/>
<path d="M470.0 244.8 C471.7 243.3 476.9 238.9 480.0 236.0 C483.1 233.1 485.6 229.6 488.6 227.4 C491.6 225.2 494.1 224.5 498.0 222.8 C501.9 221.1 508.0 218.0 511.8 217.0 C515.6 216.0 518.3 217.6 521.0 217.0 C523.7 216.4 525.3 214.6 528.0 213.5 C530.7 212.4 533.5 210.4 537.2 210.2 C540.9 209.9 545.4 211.4 550.0 212.0 C554.6 212.6 560.0 212.8 565.0 213.5 C570.0 214.2 574.2 214.8 580.0 216.0 C585.8 217.2 594.2 218.7 600.0 220.5 C605.8 222.3 610.3 224.6 615.0 227.0 C619.7 229.4 624.9 234.0 628.4 234.8 C631.9 235.6 633.2 233.6 636.0 232.0 C638.8 230.4 643.5 226.2 645.0 225.0" stroke="#d04444" fill="none" stroke-width="1"/>
<path d="M470.6 337.2 C474.0 334.2 485.3 321.1 490.7 319.1 C496.1 317.1 499.8 324.5 503.0 325.0 C506.2 325.5 506.8 322.3 510.0 322.0 C513.2 321.7 517.5 323.1 522.0 323.0 C526.5 322.9 530.0 321.0 537.2 321.6 C544.4 322.2 556.2 324.9 565.0 326.5 C573.8 328.1 583.3 329.4 590.0 331.0 C596.7 332.6 599.7 334.4 605.0 336.0 C610.3 337.6 617.0 340.2 622.0 340.5 C627.0 340.8 631.2 339.2 635.0 338.0 C638.8 336.8 643.3 333.8 645.0 333.0" stroke="#e090e0" fill="none" stroke-width="0.7" stroke-dasharray="3 1 1 1"/>
<path d="M470.6 330.2 C474.0 328.0 485.4 317.8 490.7 317.0 C496.0 316.2 499.1 324.7 502.5 325.4 C505.9 326.1 507.8 321.7 510.8 321.2 C513.8 320.7 517.4 322.5 520.6 322.6 C523.9 322.7 527.5 322.1 530.3 322.0 C533.1 321.9 531.4 321.1 537.2 321.9 C543.0 322.7 557.0 325.3 565.0 326.8 C573.0 328.3 579.2 329.6 585.0 331.0 C590.8 332.4 595.5 333.7 600.0 335.0 C604.5 336.3 607.8 337.8 612.0 339.0 C616.2 340.2 621.2 342.3 625.0 342.0 C628.8 341.7 631.7 339.4 635.0 337.0 C638.3 334.6 643.3 329.1 645.0 327.5" stroke="#50c8d8" fill="none" stroke-width="0.9" stroke-dasharray="2.5 1.5"/>
<path d="M470.6 338.5 C474.0 335.2 485.3 321.2 490.7 319.0 C496.1 316.8 499.8 324.5 503.0 325.0 C506.2 325.5 508.0 322.8 510.0 322.0 C512.0 321.2 513.0 320.3 515.0 320.5 C517.0 320.7 519.5 322.8 522.0 323.0 C524.5 323.2 527.8 322.2 530.3 322.0 C532.8 321.8 534.2 321.2 537.2 321.5 C540.2 321.8 543.7 322.7 548.3 323.5 C552.9 324.3 559.7 325.4 565.0 326.5 C570.3 327.6 575.0 328.7 580.0 330.0 C585.0 331.3 590.0 332.8 595.0 334.5 C600.0 336.2 604.2 337.9 610.0 340.0 C615.8 342.1 625.3 345.8 630.0 347.0 C634.7 348.2 635.5 347.2 638.0 347.0 C640.5 346.8 643.8 346.2 645.0 346.0" stroke="#25258a" fill="none" stroke-width="0.9" stroke-dasharray="1 1.4"/>
<path d="M470.6 337.9 C474.0 336.1 485.1 329.2 490.7 327.4 C496.2 325.6 500.8 327.7 503.9 327.3 C507.0 326.9 506.4 325.6 509.4 325.2 C512.4 324.8 518.5 325.5 522.0 325.2 C525.5 324.9 527.8 323.6 530.3 323.1 C532.8 322.6 534.2 322.3 537.2 322.4 C540.2 322.5 543.7 323.1 548.3 323.8 C552.9 324.5 559.7 325.5 565.0 326.5 C570.3 327.5 575.0 328.7 580.0 330.0 C585.0 331.3 590.0 332.8 595.0 334.5 C600.0 336.2 604.2 337.6 610.0 340.5 C615.8 343.4 625.3 350.4 630.0 352.0 C634.7 353.6 635.5 351.2 638.0 350.0 C640.5 348.8 643.8 345.8 645.0 345.0" stroke="#40b840" fill="none" stroke-width="0.9" stroke-dasharray="2 1"/>
<path d="M470.6 340.6 C474.0 338.3 485.1 329.1 490.7 326.8 C496.2 324.5 500.8 327.2 503.9 326.8 C507.0 326.4 506.4 325.1 509.4 324.7 C512.4 324.3 518.5 325.0 522.0 324.7 C525.5 324.4 527.8 323.1 530.3 322.6 C532.8 322.1 534.2 321.8 537.2 321.9 C540.2 322.0 543.7 322.6 548.3 323.3 C552.9 324.0 559.7 325.0 565.0 326.0 C570.3 327.0 575.0 328.2 580.0 329.5 C585.0 330.8 590.0 332.2 595.0 334.0 C600.0 335.8 604.2 337.1 610.0 340.0 C615.8 342.9 625.3 349.8 630.0 351.4 C634.7 353.0 635.5 350.8 638.0 349.5 C640.5 348.2 643.8 344.4 645.0 343.4" stroke="#d04444" fill="none" stroke-width="1"/></svg>
<div class="nw" style="left:220.4px;transform:scaleX(0.95)">(see</div>
<div class="nw" style="left:258px;transform:scaleX(1.098)">Zahn+</div>
<div class="nw" style="left:317.4px;transform:scaleX(1.063)">2009,</div>
<div class="nw" style="left:368px;transform:scaleX(1.10)">in</div>
<div class="nw" style="left:385.5px;transform:scaleX(1.122)">preparation)</div>
<div class="t ft" id="f1">18. aug, 2009</div>
<div class="t ft" id="f2">21cmFAST</div>
<div class="t ft" id="f3">AlbaNova, Stockholm</div>
</body></html>
